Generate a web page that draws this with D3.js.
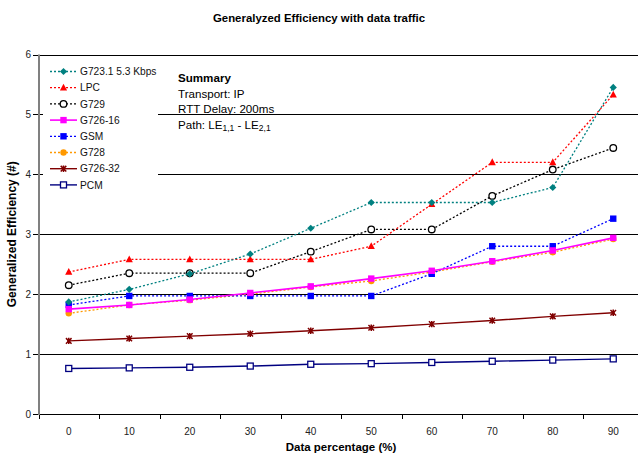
<!DOCTYPE html>
<html><head><meta charset="utf-8">
<script src="https://cdn.jsdelivr.net/npm/d3@7"></script>
<style>body{margin:0;background:#fff}svg{display:block;font-family:Arial,"Liberation Sans",sans-serif}</style>
</head><body><svg id="c" width="638" height="453"></svg>
<script>
const categories = ["0","10","20","30","40","50","60","70","80","90"];
const yTicks = [0,1,2,3,4,5,6];
const g7231 = [1.87,2.08,2.34,2.67,3.10,3.53,3.53,3.53,3.78,5.45];
const lpc   = [2.37,2.58,2.58,2.58,2.58,2.80,3.50,4.20,4.20,5.33];
const g729  = [2.15,2.35,2.35,2.35,2.71,3.08,3.08,3.64,4.08,4.44];
const g72616= [1.75,1.82,1.91,2.02,2.13,2.26,2.39,2.55,2.73,2.94];
const gsm   = [1.82,1.97,1.97,1.97,1.97,1.97,2.34,2.80,2.80,3.26];
const g728  = [1.68,1.82,1.90,2.00,2.12,2.22,2.37,2.54,2.70,2.92];
const g72632= [1.22,1.26,1.30,1.34,1.39,1.44,1.50,1.56,1.63,1.69];
const pcm   = [0.76,0.77,0.78,0.80,0.83,0.84,0.86,0.88,0.90,0.92];
const seriesNames = ["G723.1 5.3 Kbps","LPC","G729","G726-16","GSM","G728","G726-32","PCM"];
const seriesValues = [g7231,lpc,g729,g72616,gsm,g728,g72632,pcm];
const summaryTitle = "Summary";
const summaryLines = ["Transport: IP","RTT Delay: 200ms"];

const styles = [
 {color:"#008080", dash:"2,2", marker:"diamond", fill:"#008080"},
 {color:"#FF0000", dash:"2,2", marker:"triangle", fill:"#FF0000"},
 {color:"#000000", dash:"2,2", marker:"circleOpen", fill:"#fff"},
 {color:"#FF00FF", dash:null, marker:"square", fill:"#FF00FF", width:1.6},
 {color:"#0000FF", dash:"2,2", marker:"square", fill:"#0000FF"},
 {color:"#FF9900", dash:"2,2", marker:"circle", fill:"#FF9900"},
 {color:"#800000", dash:null, marker:"star", fill:"#800000", width:1.4},
 {color:"#000080", dash:null, marker:"squareOpen", fill:"#fff", width:1.4}
];

const svg = d3.select("#c");
const L = 38.5, R = 643.5, T = 54.5, B = 414;
const x = d3.scaleBand().domain(categories).range([L,R]).padding(0);
const y = d3.scaleLinear().domain([0,6]).range([B,T]);

// gridlines
svg.append("g").selectAll("line").data(yTicks.filter(d=>d>0)).join("line")
  .attr("x1",L).attr("x2",638).attr("y1",d=>Math.round(y(d))+0.5).attr("y2",d=>Math.round(y(d))+0.5)
  .attr("stroke","#000").attr("stroke-width",1);

// x axis
const xa = svg.append("g");
xa.append("line").attr("x1",L).attr("x2",638).attr("y1",B+0.5).attr("y2",B+0.5).attr("stroke","#000");
xa.selectAll(".tk").data(categories).join("line")
  .attr("x1",d=>Math.round(x(d))+0.5).attr("x2",d=>Math.round(x(d))+0.5)
  .attr("y1",B).attr("y2",B+5).attr("stroke","#000");
xa.selectAll("text").data(categories).join("text")
  .attr("x",d=>x(d)+x.bandwidth()/2).attr("y",435).attr("text-anchor","middle")
  .attr("font-size",10).attr("fill","#222").text(d=>d);

// y axis
const ya = svg.append("g");
ya.selectAll("line.t").data(yTicks).join("line")
  .attr("x1",33).attr("x2",L).attr("y1",d=>Math.round(y(d))+0.5).attr("y2",d=>Math.round(y(d))+0.5)
  .attr("stroke","#000");
ya.append("line").attr("x1",L+0.5).attr("x2",L+0.5).attr("y1",T).attr("y2",B+1).attr("stroke","#808080").attr("stroke-width",2);
ya.selectAll("text").data(yTicks).join("text")
  .attr("x",31).attr("y",d=>y(d)+3.5).attr("text-anchor","end")
  .attr("font-size",10).attr("fill","#222").text(d=>d);

// titles
svg.append("text").attr("x",319).attr("y",22).attr("text-anchor","middle")
  .attr("font-size",11.4).attr("font-weight","bold").text("Generalyzed Efficiency with data traffic");
svg.append("text").attr("x",(L+R)/2).attr("y",451).attr("text-anchor","middle")
  .attr("font-size",11.5).attr("font-weight","bold").text("Data percentage (%)");
svg.append("text").attr("transform",`translate(16,${(T+B)/2}) rotate(-90)`).attr("text-anchor","middle")
  .attr("font-size",12).attr("font-weight","bold").text("Generalized Efficiency (#)");

function marker(g, type, cx, cy, st){
  if(type==="diamond"){
    g.append("path").attr("d",`M${cx},${cy-3.6}L${cx+3.6},${cy}L${cx},${cy+3.6}L${cx-3.6},${cy}Z`).attr("fill",st.fill);
  } else if(type==="triangle"){
    g.append("path").attr("d",`M${cx},${cy-4}L${cx+3.6},${cy+2.8}L${cx-3.6},${cy+2.8}Z`).attr("fill",st.fill);
  } else if(type==="circleOpen"){
    g.append("circle").attr("cx",cx).attr("cy",cy).attr("r",3.3).attr("fill","#fff").attr("stroke",st.color).attr("stroke-width",1.3);
  } else if(type==="circle"){
    g.append("circle").attr("cx",cx).attr("cy",cy).attr("r",3.2).attr("fill",st.fill);
  } else if(type==="square"){
    g.append("rect").attr("x",cx-3.2).attr("y",cy-3.2).attr("width",6.4).attr("height",6.4).attr("fill",st.fill);
  } else if(type==="squareOpen"){
    g.append("rect").attr("x",cx-3).attr("y",cy-3).attr("width",6).attr("height",6).attr("fill","#fff").attr("stroke",st.color).attr("stroke-width",1.3);
  } else if(type==="star"){
    g.append("path").attr("d",`M${cx-2.8},${cy-2.8}L${cx+2.8},${cy+2.8}M${cx+2.8},${cy-2.8}L${cx-2.8},${cy+2.8}M${cx},${cy-3.2}L${cx},${cy+3.2}`)
      .attr("stroke",st.color).attr("stroke-width",1.5);
    g.append("rect").attr("x",cx-1.5).attr("y",cy-1.5).attr("width",3).attr("height",3).attr("fill",st.color);
  }
}

const line = d3.line().x((d,i)=>x(categories[i])+x.bandwidth()/2).y(d=>y(d));
for(let s=seriesValues.length-1;s>=0;s--){
  const st = styles[s], vals = seriesValues[s];
  const g = svg.append("g");
  g.append("path").attr("d",line(vals)).attr("fill","none").attr("stroke",st.color)
    .attr("stroke-width",st.width||1.3).attr("stroke-dasharray",st.dash);
  vals.forEach((v,i)=>marker(g, st.marker, x(categories[i])+x.bandwidth()/2, y(v), st));
}

// legend
const lg = svg.append("g");
lg.append("rect").attr("x",43).attr("y",59).attr("width",115).attr("height",136).attr("fill","#fff");
seriesNames.forEach((n,i)=>{
  const st = styles[i], ly = 71.5 + i*16.2;
  lg.append("line").attr("x1",50).attr("x2",77).attr("y1",ly).attr("y2",ly)
    .attr("stroke",st.color).attr("stroke-width",st.width||1.3).attr("stroke-dasharray",st.dash);
  marker(lg, st.marker, 63.5, ly, st);
  lg.append("text").attr("x",80).attr("y",ly+3.6).attr("font-size",10.2).attr("fill","#111").text(n);
});

// summary
const sm = svg.append("g").attr("font-size",11.6);
sm.append("text").attr("x",178).attr("y",82).attr("font-weight","bold").text(summaryTitle);
summaryLines.forEach((t,i)=>sm.append("text").attr("x",178).attr("y",97.5+i*15.5).text(t));
const pt = sm.append("text").attr("x",178).attr("y",128.5);
pt.append("tspan").text("Path: LE");
pt.append("tspan").attr("font-size",8.5).attr("dy",2.5).text("1,1");
pt.append("tspan").attr("dy",-2.5).text(" - LE");
pt.append("tspan").attr("font-size",8.5).attr("dy",2.5).text("2,1");
</script></body></html>
